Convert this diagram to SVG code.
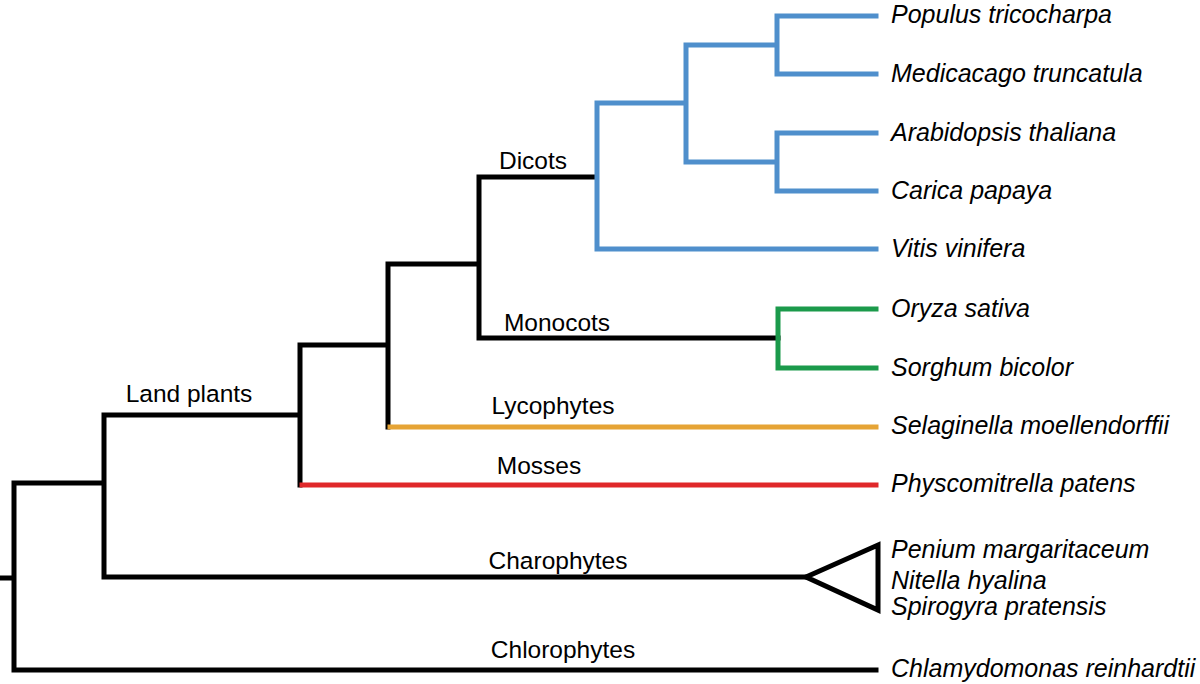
<svg xmlns="http://www.w3.org/2000/svg" width="1200" height="684" viewBox="0 0 1200 684">
<style>
.e{fill:none;stroke-width:5;stroke-linecap:square;stroke-linejoin:miter}
.k{stroke:#000}
.b{stroke:#4f8fcc}
.g{stroke:#1b9a4b}
.o{stroke:#e6a435}
.r{stroke:#e0282a}
.sp{font-family:"Liberation Sans",Arial,sans-serif;font-style:italic;font-size:25px;fill:#000}
.cl{font-family:"Liberation Sans",Arial,sans-serif;font-size:24.5px;fill:#000;text-anchor:middle}
</style>
<rect width="1200" height="684" fill="#fff"/>
<g id="connectors">
<path class="e k" d="M0 578H14 M14 483V670H876 M14 483H104 M104 415V577H806 M104 415H300 M300 345V485 M300 345H388 M388 264V427 M388 264H479 M479 177V338H778 M479 177H595"/>
<path class="e b" d="M597 103V249H876 M597 103H686 M686 45V162 M686 162H777 M686 45H777 M777 16V74 M777 16H876 M777 74H876 M777 133V191 M777 133H876 M777 191H876"/>
<path class="e g" d="M778 309V368 M778 309H876 M778 368H876"/>
<path class="e o" d="M390 427H876"/>
<path class="e r" d="M302 485H876"/>
<path class="e k" d="M806 577L878 545V610Z"/>
</g>
<g id="labels">
<text class="cl" x="533" y="169">Dicots</text>
<text class="cl" x="557" y="331">Monocots</text>
<text class="cl" x="189" y="402">Land plants</text>
<text class="cl" x="553" y="414">Lycophytes</text>
<text class="cl" x="539" y="474">Mosses</text>
<text class="cl" x="558" y="569">Charophytes</text>
<text class="cl" x="563" y="658">Chlorophytes</text>
</g>
<g id="n-populus"><text class="sp" x="891" y="23">Populus tricocharpa</text></g>
<g id="n-medicago"><text class="sp" x="891" y="82">Medicacago truncatula</text></g>
<g id="n-arabidopsis"><text class="sp" x="891" y="141">Arabidopsis thaliana</text></g>
<g id="n-carica"><text class="sp" x="891" y="199">Carica papaya</text></g>
<g id="n-vitis"><text class="sp" x="891" y="257">Vitis vinifera</text></g>
<g id="n-oryza"><text class="sp" x="891" y="317">Oryza sativa</text></g>
<g id="n-sorghum"><text class="sp" x="891" y="376">Sorghum bicolor</text></g>
<g id="n-selaginella"><text class="sp" x="891" y="434">Selaginella moellendorffii</text></g>
<g id="n-physcomitrella"><text class="sp" x="891" y="492">Physcomitrella patens</text></g>
<g id="n-charophytes">
<text class="sp" x="891" y="558">Penium margaritaceum</text>
<text class="sp" x="891" y="589">Nitella hyalina</text>
<text class="sp" x="891" y="615">Spirogyra pratensis</text>
</g>
<g id="n-chlamydomonas"><text class="sp" x="891" y="677">Chlamydomonas reinhardtii</text></g>
</svg>
